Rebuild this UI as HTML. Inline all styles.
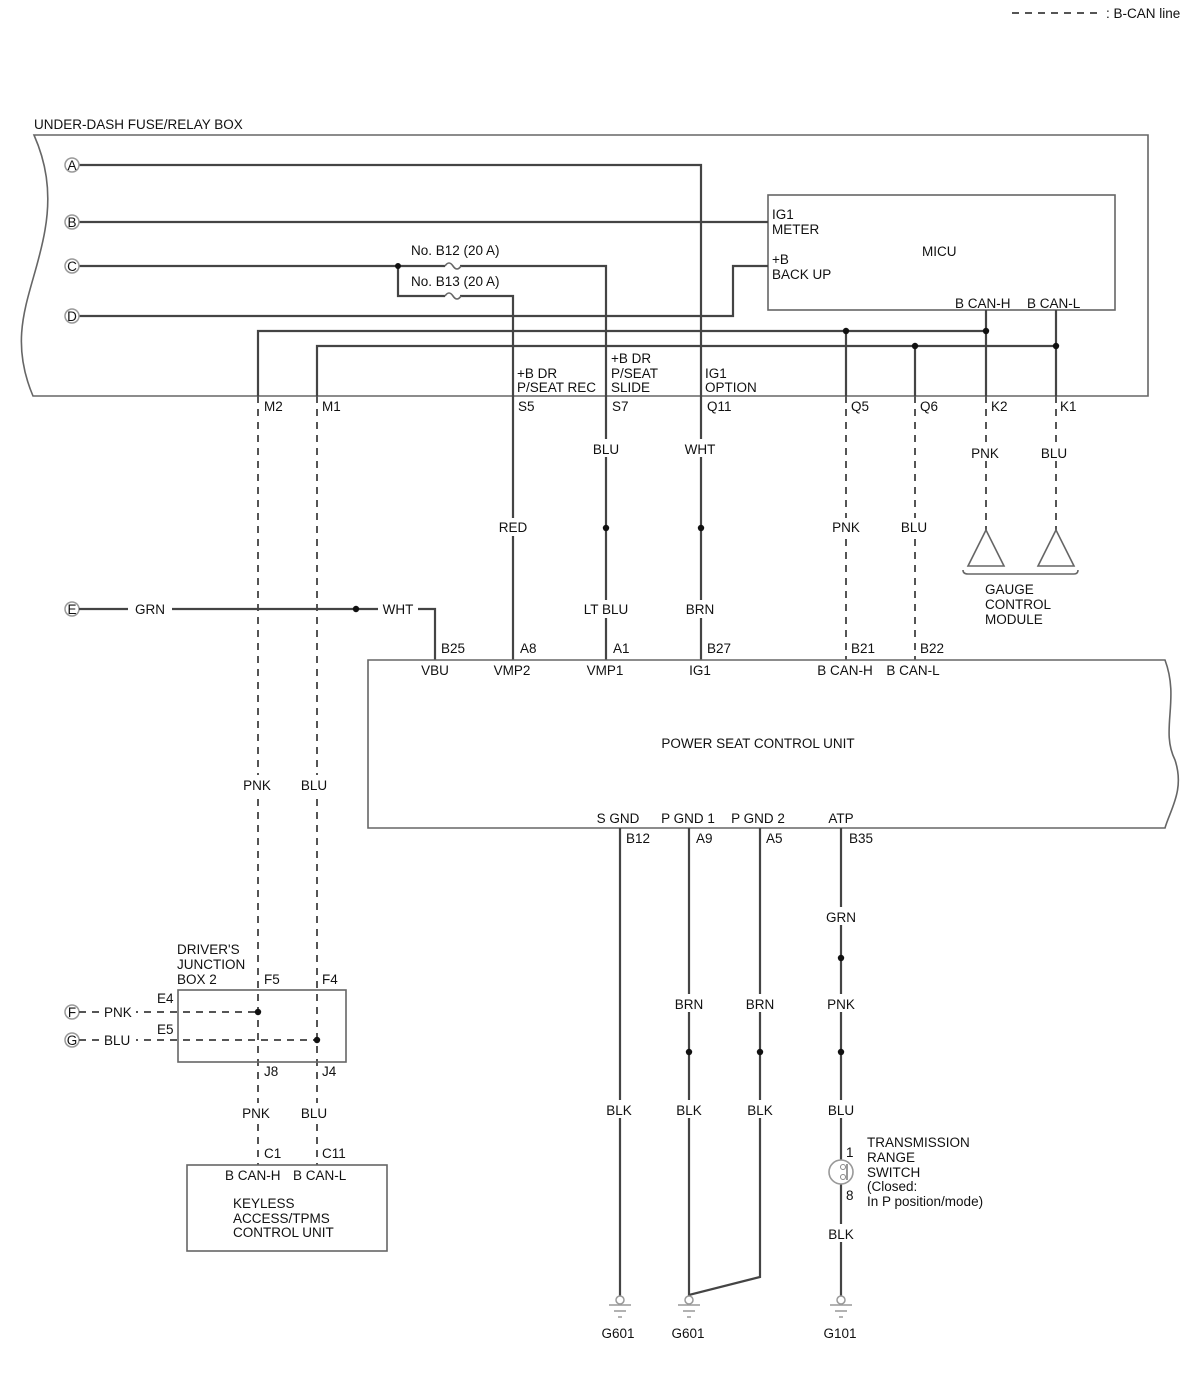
<!DOCTYPE html>
<html><head><meta charset="utf-8"><style>
html,body{margin:0;padding:0;background:#fff}
svg{display:block}
text{font-family:"Liberation Sans",sans-serif;font-size:13.5px;fill:#111}
.w{stroke:#444;stroke-width:2.2;fill:none}
.d{stroke:#555;stroke-width:2;fill:none;stroke-dasharray:7,6}
.b{stroke:#666;stroke-width:1.6;fill:none}
.lb{fill:#fff}
</style></head><body>
<svg width="1200" height="1380" viewBox="0 0 1200 1380" xmlns="http://www.w3.org/2000/svg">
<!-- legend -->
<line x1="1012" y1="13" x2="1103" y2="13" class="d"/>
<text x="1106" y="18">: B-CAN line</text>

<!-- fuse box -->
<text x="34" y="129">UNDER-DASH FUSE/RELAY BOX</text>
<path class="b" d="M34,135 L1148,135 L1148,396 L33,396 C5,330 35,290 45,230 C52,190 45,160 34,135 Z"/>

<!-- MICU -->
<rect x="768" y="195" width="347" height="115" class="b"/>
<text x="772" y="219">IG1</text><text x="772" y="234">METER</text>
<text x="922" y="256">MICU</text>
<text x="772" y="264">+B</text><text x="772" y="279">BACK UP</text>
<text x="955" y="308">B CAN-H</text><text x="1027" y="308">B CAN-L</text>

<!-- A-D wires -->
<path class="w" d="M79,165 H701 V660"/>
<path class="w" d="M79,222 H768"/>
<path class="w" d="M79,266 H445 M460,266 H606 V660"/>
<path class="w" d="M398,266 V296 H445 M460,296 H513 V660"/>
<path class="w" d="M79,316 H733 V266 H768"/>
<path class="b" d="M445,266 q4,-6 8,0 q4,6 8,0 M445,296 q4,-6 8,0 q4,6 8,0"/>
<circle cx="398" cy="266" r="3" fill="#111"/>
<text x="411" y="255">No. B12 (20 A)</text>
<text x="411" y="286">No. B13 (20 A)</text>

<!-- CAN bus inside -->
<path class="w" d="M258,396 V331 H986"/>
<path class="w" d="M317,396 V346 H1056"/>
<path class="w" d="M846,331 V396 M915,346 V396 M986,310 V396 M1056,310 V396"/>
<circle cx="846" cy="331" r="3.2" fill="#111"/><circle cx="986" cy="331" r="3.2" fill="#111"/>
<circle cx="915" cy="346" r="3.2" fill="#111"/><circle cx="1056" cy="346" r="3.2" fill="#111"/>

<g fill="#fff" stroke="#999" stroke-width="1.5">
<circle cx="72" cy="165" r="7"/><circle cx="72" cy="222" r="7"/><circle cx="72" cy="266" r="7"/><circle cx="72" cy="316" r="7"/>
<circle cx="72" cy="609" r="7"/><circle cx="72" cy="1012" r="7"/><circle cx="72" cy="1040" r="7"/>
</g>
<g style="font-size:12px" text-anchor="middle">
<text x="72" y="170">A</text><text x="72" y="227">B</text><text x="72" y="271">C</text><text x="72" y="321">D</text>
<text x="72" y="614">E</text><text x="72" y="1017">F</text><text x="72" y="1045">G</text>
</g>

<text x="517" y="378">+B DR</text><text x="517" y="392">P/SEAT REC</text>
<text x="611" y="363">+B DR</text><text x="611" y="378">P/SEAT</text><text x="611" y="392">SLIDE</text>
<text x="705" y="378">IG1</text><text x="705" y="392">OPTION</text>
<text x="264" y="411">M2</text><text x="322" y="411">M1</text><text x="518" y="411">S5</text><text x="612" y="411">S7</text>
<text x="707" y="411">Q11</text><text x="851" y="411">Q5</text><text x="920" y="411">Q6</text><text x="991" y="411">K2</text><text x="1060" y="411">K1</text>

<!-- dashed downs -->
<path class="d" d="M258,396 V1165 M317,396 V1165 M846,396 V660 M915,396 V660 M986,396 V530 M1056,396 V530"/>
<path class="b" d="M986,530 L968,566 H1004 Z M1056,530 L1038,566 H1074 Z"/>
<path class="b" d="M963,570 Q963,574 968,574 H1074 Q1078,574 1078,570" stroke="#aaa"/>
<text x="985" y="594">GAUGE</text><text x="985" y="609">CONTROL</text><text x="985" y="624">MODULE</text>

<!-- E wire -->
<path class="w" d="M79,609 H435 V660"/>
<circle cx="356" cy="609" r="3.2" fill="#111"/>
<circle cx="606" cy="528" r="3.2" fill="#111"/><circle cx="701" cy="528" r="3.2" fill="#111"/>

<!-- wire labels with white bg -->
<g text-anchor="middle">
<rect class="lb" x="128" y="601" width="44" height="16"/><text x="150" y="614">GRN</text>
<rect class="lb" x="378" y="601" width="40" height="16"/><text x="398" y="614">WHT</text>
<rect class="lb" x="494" y="518" width="38" height="18"/><text x="513" y="532">RED</text>
<rect class="lb" x="588" y="439" width="36" height="18"/><text x="606" y="454">BLU</text>
<rect class="lb" x="580" y="600" width="52" height="18"/><text x="606" y="614">LT BLU</text>
<rect class="lb" x="682" y="439" width="38" height="18"/><text x="700" y="454">WHT</text>
<rect class="lb" x="682" y="600" width="38" height="18"/><text x="700" y="614">BRN</text>
<rect class="lb" x="826" y="518" width="40" height="18"/><text x="846" y="532">PNK</text>
<rect class="lb" x="897" y="518" width="36" height="18"/><text x="914" y="532">BLU</text>
<rect class="lb" x="966" y="443" width="40" height="18"/><text x="985" y="458">PNK</text>
<rect class="lb" x="1038" y="443" width="36" height="18"/><text x="1054" y="458">BLU</text>
<rect class="lb" x="237" y="775" width="40" height="18"/><text x="257" y="790">PNK</text>
<rect class="lb" x="297" y="775" width="36" height="18"/><text x="314" y="790">BLU</text>
</g>

<text x="441" y="653">B25</text><text x="520" y="653">A8</text><text x="613" y="653">A1</text><text x="707" y="653">B27</text><text x="851" y="653">B21</text><text x="920" y="653">B22</text>

<!-- power seat control unit -->
<path class="b" d="M368,660 H1165 C1180,700 1160,730 1175,760 C1185,790 1170,810 1165,828 H368 Z"/>
<g text-anchor="middle">
<text x="435" y="675">VBU</text><text x="512" y="675">VMP2</text><text x="605" y="675">VMP1</text><text x="700" y="675">IG1</text>
<text x="845" y="675">B CAN-H</text><text x="913" y="675">B CAN-L</text>
<text x="758" y="748">POWER SEAT CONTROL UNIT</text>
<text x="618" y="823">S GND</text><text x="688" y="823">P GND 1</text><text x="758" y="823">P GND 2</text><text x="841" y="823">ATP</text>
</g>
<text x="626" y="843">B12</text><text x="696" y="843">A9</text><text x="766" y="843">A5</text><text x="849" y="843">B35</text>

<!-- ground wires -->
<path class="w" d="M620,828 V1296 M689,828 V1295 L760,1277 V828 M841,828 V1160 M841,1184 V1296"/>
<circle cx="689" cy="1052" r="3.2" fill="#111"/><circle cx="760" cy="1052" r="3.2" fill="#111"/>
<circle cx="841" cy="958" r="3.2" fill="#111"/><circle cx="841" cy="1052" r="3.2" fill="#111"/>
<g text-anchor="middle">
<rect class="lb" x="670" y="994" width="38" height="18"/><text x="689" y="1009">BRN</text>
<rect class="lb" x="741" y="994" width="38" height="18"/><text x="760" y="1009">BRN</text>
<rect class="lb" x="601" y="1100" width="38" height="18"/><text x="619" y="1115">BLK</text>
<rect class="lb" x="670" y="1100" width="38" height="18"/><text x="689" y="1115">BLK</text>
<rect class="lb" x="741" y="1100" width="38" height="18"/><text x="760" y="1115">BLK</text>
<rect class="lb" x="822" y="907" width="38" height="18"/><text x="841" y="922">GRN</text>
<rect class="lb" x="822" y="994" width="38" height="18"/><text x="841" y="1009">PNK</text>
<rect class="lb" x="822" y="1100" width="38" height="18"/><text x="841" y="1115">BLU</text>
<rect class="lb" x="822" y="1224" width="38" height="18"/><text x="841" y="1239">BLK</text>
<text x="618" y="1338">G601</text><text x="688" y="1338">G601</text><text x="840" y="1338">G101</text>
</g>
<circle cx="841" cy="1172" r="12" fill="#fff" stroke="#999" stroke-width="1.6"/>
<circle cx="843" cy="1167" r="2.5" fill="#fff" stroke="#888"/><circle cx="843" cy="1177" r="2.5" fill="#fff" stroke="#888"/>
<line x1="847" y1="1164" x2="847" y2="1180" stroke="#777" stroke-width="1.5"/>
<text x="846" y="1157">1</text><text x="846" y="1200">8</text>
<text x="867" y="1147">TRANSMISSION</text><text x="867" y="1162">RANGE</text><text x="867" y="1177">SWITCH</text><text x="867" y="1191">(Closed:</text><text x="867" y="1206">In P position/mode)</text>
<g stroke="#999" stroke-width="1.5" fill="#fff">
<circle cx="620" cy="1300" r="4"/><circle cx="689" cy="1300" r="4"/><circle cx="841" cy="1300" r="4"/>
<path d="M609,1305 H631 M614,1311 H626 M618,1317 H622 M678,1305 H700 M683,1311 H695 M687,1317 H691 M830,1305 H852 M835,1311 H847 M839,1317 H843"/>
</g>

<!-- junction box -->
<text x="177" y="954">DRIVER'S</text><text x="177" y="969">JUNCTION</text><text x="177" y="984">BOX 2</text>
<text x="264" y="984">F5</text><text x="322" y="984">F4</text>
<rect x="178" y="990" width="168" height="72" class="b"/>
<text x="157" y="1003">E4</text><text x="157" y="1034">E5</text>
<path class="d" d="M79,1012 H258 M79,1040 H317"/>
<rect class="lb" x="100" y="1004" width="36" height="16"/><text x="104" y="1017">PNK</text>
<rect class="lb" x="100" y="1032" width="36" height="16"/><text x="104" y="1045">BLU</text>
<circle cx="258" cy="1012" r="3.2" fill="#111"/><circle cx="317" cy="1040" r="3.2" fill="#111"/>
<text x="264" y="1076">J8</text><text x="322" y="1076">J4</text>
<g text-anchor="middle">
<rect class="lb" x="237" y="1103" width="40" height="18"/><text x="256" y="1118">PNK</text>
<rect class="lb" x="297" y="1103" width="36" height="18"/><text x="314" y="1118">BLU</text>
</g>
<text x="264" y="1158">C1</text><text x="322" y="1158">C11</text>
<rect x="187" y="1165" width="200" height="86" class="b"/>
<text x="225" y="1180">B CAN-H</text><text x="293" y="1180">B CAN-L</text>
<text x="233" y="1208">KEYLESS</text><text x="233" y="1223">ACCESS/TPMS</text><text x="233" y="1237">CONTROL UNIT</text>
</svg>
</body></html>
